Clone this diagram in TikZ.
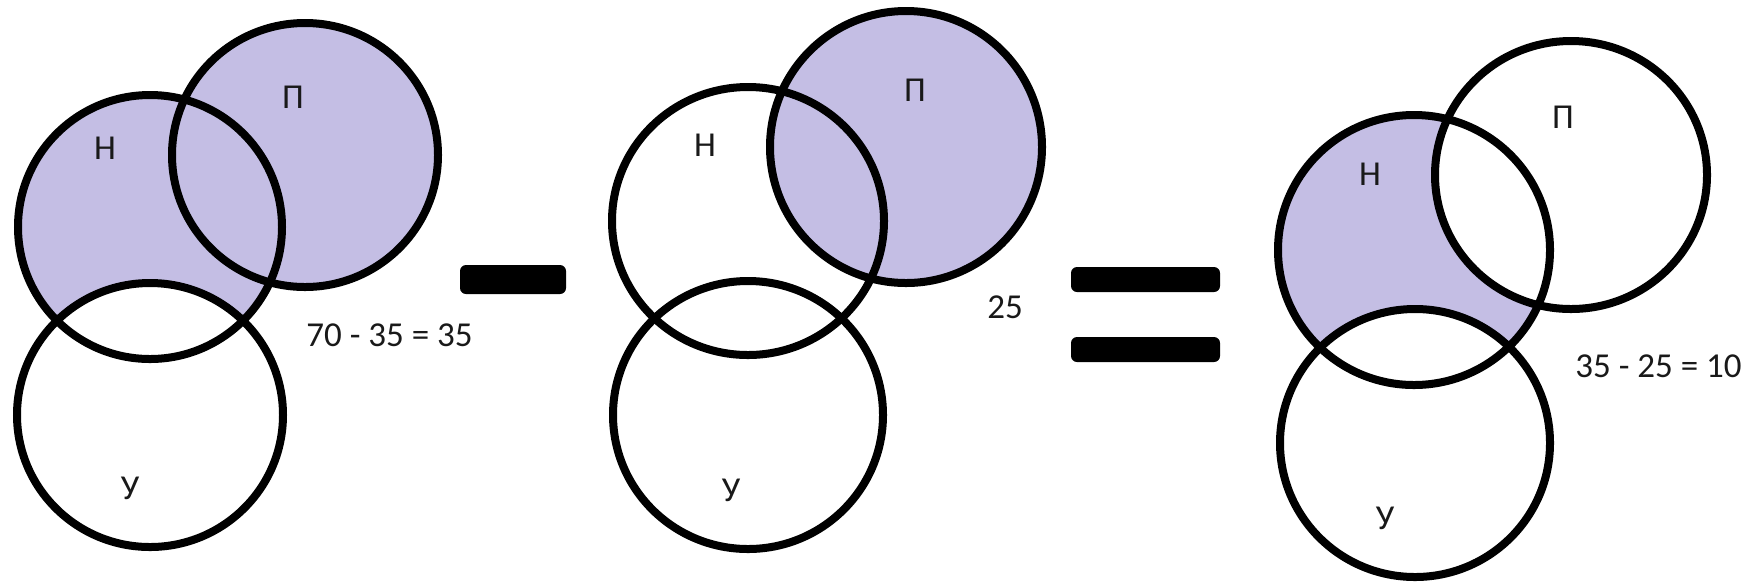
\documentclass[tikz,border=0pt]{standalone}
\usepackage{fontspec}
\setmainfont{Carlito}
\definecolor{lav}{RGB}{196,190,228}
\begin{document}
\begin{tikzpicture}[x=0.5pt,y=-0.5pt,
  ring/.style={draw=black, line width=4pt},
  shaded/.style={fill=lav},
  blank/.style={fill=white},
  lbl/.style={font=\fontsize{17.5}{20}\selectfont, inner sep=0pt, text=black!90},
  bar/.style={fill=black, rounded corners=3pt}]
\useasboundingbox (0,0) rectangle (1744,586);
% ---------- panel 1 ----------
\fill[shaded] (150,227) ellipse [x radius=132, y radius=132];
\fill[shaded] (305,155) ellipse [x radius=133, y radius=132];
\fill[blank] (150,415) ellipse [x radius=133, y radius=132];
\draw[ring] (150,227) ellipse [x radius=132, y radius=132];
\draw[ring] (305,155) ellipse [x radius=133, y radius=132];
\draw[ring] (150,415) ellipse [x radius=133, y radius=132];
\node[lbl] (aN) at (105,148) {Н};
\node[lbl] (aP) at (293,97) {П};
\node[lbl] (aU) at (130,488) {У};
\node[lbl, anchor=west] (aT) at (306,335) {70 - 35 = 35};
% minus
\fill[bar] (460,265) rectangle (566,294);
% ---------- panel 2 ----------
\fill[shaded] (906,147) ellipse [x radius=136, y radius=136];
\draw[ring] (748,221) ellipse [x radius=136, y radius=134];
\draw[ring] (906,147) ellipse [x radius=136, y radius=136];
\draw[ring] (748,415) ellipse [x radius=135, y radius=134];
\node[lbl] (bN) at (705,145) {Н};
\node[lbl] (bP) at (915,90) {П};
\node[lbl] (bU) at (731,490) {У};
\node[lbl] (bT) at (1005,307) {25};
% equals
\fill[bar] (1071,267) rectangle (1220,292);
\fill[bar] (1071,337) rectangle (1220,362);
% ---------- panel 3 ----------
\fill[shaded] (1414,250) ellipse [x radius=136, y radius=135];
\fill[blank] (1571,175) ellipse [x radius=136, y radius=134];
\fill[blank] (1415,443) ellipse [x radius=135, y radius=134];
\draw[ring] (1414,250) ellipse [x radius=136, y radius=135];
\draw[ring] (1571,175) ellipse [x radius=136, y radius=134];
\draw[ring] (1415,443) ellipse [x radius=135, y radius=134];
\node[lbl] (cN) at (1370,174) {Н};
\node[lbl] (cP) at (1563,117) {П};
\node[lbl] (cU) at (1385,518) {У};
\node[lbl, anchor=east] (cT) at (1742,366) {35 - 25 = 10};
\end{tikzpicture}
\end{document}
